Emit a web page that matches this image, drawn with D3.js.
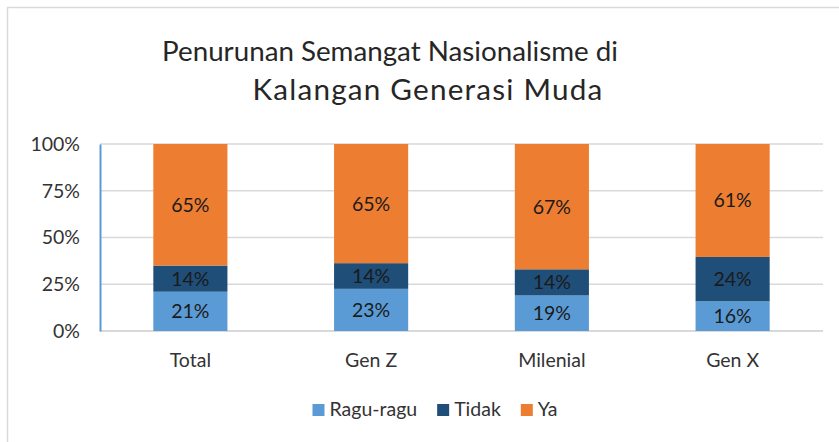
<!DOCTYPE html>
<html>
<head>
<meta charset="utf-8">
<script src="https://cdn.jsdelivr.net/npm/d3@7"></script>
<style>
  html, body { margin: 0; padding: 0; background: #fff; }
  svg text { font-family: Lato, "Open Sans", sans-serif; }
</style>
</head>
<body>
<div id="chart"></div>
<script>
// chart values
const categories = ["Total", "Gen Z", "Milenial", "Gen X"];
const seriesNames = ["Ragu-ragu", "Tidak", "Ya"];
const raguRagu = [21, 23, 19, 16];
const tidak = [14, 14, 14, 24];
const ya = [65, 65, 67, 61];
const yTicks = [0, 0.25, 0.5, 0.75, 1];
const titleLines = ["Penurunan Semangat Nasionalisme di", "Kalangan Generasi Muda"];

const colors = ["#5b9bd5", "#1f4e79", "#ed7d31"];

const width = 839, height = 442;
const plot = { left: 100, right: 823, top: 144, bottom: 331 };
const labelSize = "19.5px";

const svg = d3.select("#chart").append("svg")
  .attr("width", width)
  .attr("height", height);

// outer chart frame (only top and left edges are in view)
svg.append("rect")
  .attr("x", 7.5).attr("y", 7.5)
  .attr("width", 900).attr("height", 600)
  .attr("fill", "#fff")
  .attr("stroke", "#d9d9d9")
  .attr("stroke-width", 1.5);

// title, two lines; size from line one, line two a bit wider
const titleX = [390, 428];
const titleY = [61, 100];
const titleW = [456, 351];
const titleText = svg.append("g")
  .selectAll("text")
  .data(titleLines)
  .join("text")
  .attr("x", (d, i) => titleX[i])
  .attr("y", (d, i) => titleY[i])
  .attr("text-anchor", "middle")
  .attr("fill", "#262626")
  .style("font-size", "100px")
  .text(d => d);
const t1 = titleText.nodes()[0];
const titleSize = 100 * titleW[0] / t1.getComputedTextLength();
titleText.style("font-size", titleSize + "px");
const t2 = titleText.nodes()[1];
d3.select(t2).style("font-size", (titleSize * 1.07) + "px");
const spread = (titleW[1] - t2.getComputedTextLength()) / titleLines[1].length;
d3.select(t2).style("letter-spacing", Math.max(0, spread) + "px");

const table = categories.map((c, i) => ({
  category: c,
  "Ragu-ragu": raguRagu[i],
  "Tidak": tidak[i],
  "Ya": ya[i]
}));

const stack = d3.stack()
  .keys(seriesNames)
  .offset(d3.stackOffsetExpand);
const series = stack(table);

const x = d3.scaleBand()
  .domain(categories)
  .range([plot.left, plot.right])
  .paddingInner(0.59)
  .paddingOuter(0.295);

const y = d3.scaleLinear()
  .domain([0, 1])
  .range([plot.bottom, plot.top]);

// gridlines
svg.append("g")
  .selectAll("line")
  .data(yTicks)
  .join("line")
  .attr("x1", plot.left)
  .attr("x2", plot.right)
  .attr("y1", d => y(d))
  .attr("y2", d => y(d))
  .attr("stroke", "#d9d9d9")
  .attr("stroke-width", d => d === 0 ? 2 : 1.5);

// bars
const groups = svg.append("g")
  .selectAll("g")
  .data(series)
  .join("g")
  .attr("fill", (d, i) => colors[i]);

groups.selectAll("rect")
  .data(d => d)
  .join("rect")
  .attr("x", d => x(d.data.category))
  .attr("y", d => y(d[1]))
  .attr("width", x.bandwidth())
  .attr("height", d => y(d[0]) - y(d[1]));

// data labels
groups.selectAll("text")
  .data(d => d.map(p => ({ p: p, key: d.key })))
  .join("text")
  .attr("x", d => x(d.p.data.category) + x.bandwidth() / 2)
  .attr("y", d => (y(d.p[0]) + y(d.p[1])) / 2)
  .attr("dy", "0.36em")
  .attr("text-anchor", "middle")
  .attr("fill", "#1a1a1a")
  .style("font-size", labelSize)
  .text(d => d.p.data[d.key] + "%");

// y axis
const yAxis = svg.append("g")
  .attr("transform", `translate(${plot.left},0)`)
  .call(d3.axisLeft(y)
    .tickValues(yTicks)
    .tickFormat(d3.format(".0%"))
    .tickSize(0)
    .tickPadding(20));
yAxis.select(".domain")
  .attr("stroke", "#5b9bd5")
  .attr("stroke-width", 2);
yAxis.selectAll("text")
  .attr("fill", "#333")
  .style("font-size", labelSize);

// x axis
const xAxis = svg.append("g")
  .attr("transform", `translate(0,${plot.bottom})`)
  .call(d3.axisBottom(x).tickSize(0).tickPadding(22));
xAxis.select(".domain").remove();
xAxis.selectAll("text")
  .attr("fill", "#333")
  .style("font-size", labelSize);

// legend
const legend = svg.append("g");
const items = legend.selectAll("g")
  .data(seriesNames)
  .join("g");
items.append("rect")
  .attr("width", 12)
  .attr("height", 12)
  .attr("y", -12)
  .attr("fill", (d, i) => colors[i]);
items.append("text")
  .attr("x", 17)
  .attr("y", 0)
  .attr("fill", "#333")
  .style("font-size", labelSize)
  .text(d => d);

let cursor = 0;
items.each(function () {
  d3.select(this).attr("transform", `translate(${cursor},0)`);
  cursor += 17 + d3.select(this).select("text").node().getComputedTextLength() + 20;
});
const legendWidth = cursor - 20;
legend.attr("transform", `translate(${435 - legendWidth / 2},416)`);
</script>
</body>
</html>
